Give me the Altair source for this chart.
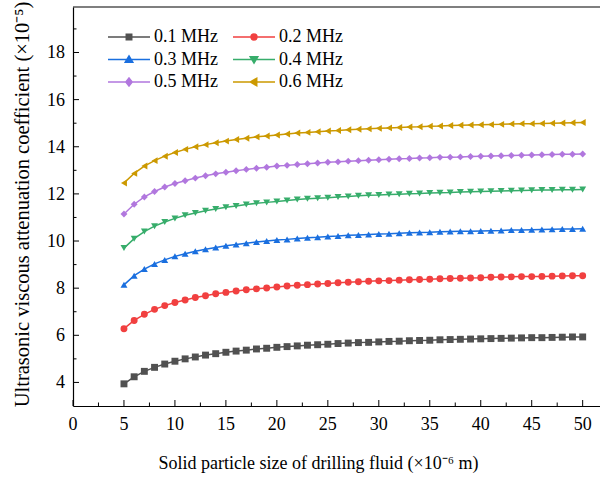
import altair as alt
import pandas as pd

# ---------------- data ----------------
x_size = list(range(5, 51))
freq_labels = ["0.1 MHz", "0.2 MHz", "0.3 MHz", "0.4 MHz", "0.5 MHz", "0.6 MHz"]
colors = ["#515151", "#F14040", "#1A6FDF", "#37AD6B", "#B177DE", "#CC9900"]
markers = ["square", "circle", "triangle-up", "triangle-down", "diamond", "triangle-left"]

att_01 = [3.94, 4.24, 4.47, 4.64, 4.78, 4.90, 5.00, 5.08, 5.16, 5.22, 5.28, 5.33, 5.37, 5.42, 5.45, 5.49,
          5.52, 5.55, 5.58, 5.60, 5.62, 5.65, 5.67, 5.69, 5.70, 5.72, 5.74, 5.75, 5.77, 5.78, 5.79, 5.81,
          5.82, 5.83, 5.84, 5.85, 5.86, 5.87, 5.88, 5.89, 5.90, 5.90, 5.91, 5.92, 5.93, 5.93]
att_02 = [6.28, 6.63, 6.89, 7.10, 7.26, 7.39, 7.50, 7.60, 7.68, 7.76, 7.82, 7.88, 7.93, 7.97, 8.01, 8.05,
          8.09, 8.12, 8.15, 8.18, 8.20, 8.23, 8.25, 8.27, 8.29, 8.31, 8.32, 8.34, 8.36, 8.37, 8.38, 8.40,
          8.41, 8.42, 8.43, 8.44, 8.46, 8.47, 8.48, 8.49, 8.49, 8.50, 8.51, 8.52, 8.53, 8.53]
att_03 = [8.14, 8.53, 8.81, 9.03, 9.20, 9.35, 9.46, 9.57, 9.65, 9.73, 9.80, 9.85, 9.91, 9.96, 10.00, 10.04,
          10.07, 10.11, 10.14, 10.16, 10.19, 10.21, 10.24, 10.26, 10.28, 10.30, 10.31, 10.33, 10.35, 10.36,
          10.37, 10.39, 10.40, 10.41, 10.42, 10.43, 10.44, 10.45, 10.47, 10.47, 10.48, 10.49, 10.50, 10.51,
          10.51, 10.52]
att_04 = [9.70, 10.10, 10.40, 10.63, 10.81, 10.96, 11.09, 11.19, 11.28, 11.36, 11.43, 11.49, 11.55, 11.60,
          11.64, 11.68, 11.72, 11.76, 11.79, 11.82, 11.84, 11.87, 11.89, 11.92, 11.94, 11.95, 11.97, 11.99,
          12.01, 12.02, 12.04, 12.05, 12.06, 12.08, 12.09, 12.10, 12.11, 12.12, 12.13, 12.14, 12.15, 12.16,
          12.17, 12.18, 12.18, 12.19]
att_05 = [11.15, 11.56, 11.87, 12.10, 12.29, 12.44, 12.56, 12.67, 12.77, 12.85, 12.92, 12.98, 13.04, 13.09,
          13.13, 13.18, 13.21, 13.25, 13.28, 13.31, 13.34, 13.36, 13.39, 13.41, 13.43, 13.45, 13.47, 13.49,
          13.50, 13.52, 13.53, 13.55, 13.56, 13.57, 13.59, 13.60, 13.61, 13.62, 13.63, 13.64, 13.65, 13.66,
          13.67, 13.68, 13.68, 13.69]
att_06 = [12.46, 12.87, 13.18, 13.41, 13.60, 13.76, 13.89, 14.00, 14.09, 14.17, 14.24, 14.31, 14.36, 14.42,
          14.46, 14.50, 14.54, 14.58, 14.61, 14.64, 14.67, 14.69, 14.72, 14.74, 14.76, 14.78, 14.80, 14.82,
          14.84, 14.85, 14.87, 14.88, 14.90, 14.91, 14.92, 14.93, 14.94, 14.95, 14.97, 14.98, 14.98, 14.99,
          15.00, 15.01, 15.02, 15.03]
series = [att_01, att_02, att_03, att_04, att_05, att_06]

x_major = [0, 5, 10, 15, 20, 25, 30, 35, 40, 45, 50]
x_tick_labels = ["0", "5", "10", "15", "20", "25", "30", "35", "40", "45", "50"]
x_minor = [2.5, 7.5, 12.5, 17.5, 22.5, 27.5, 32.5, 37.5, 42.5, 47.5]
y_major = [4, 6, 8, 10, 12, 14, 16, 18]
y_tick_labels = ["4", "6", "8", "10", "12", "14", "16", "18"]
y_minor = [5, 7, 9, 11, 13, 15, 17, 19]

x_title = "Solid particle size of drilling fluid (×10⁻⁶ m)"
y_title = "Ultrasonic viscous attenuation coefficient (×10⁻⁵)"

# legend symbols: line segment + marker (unit box -1..1)
legend_paths = [
    "M-1,0H1M-0.13,-0.13H0.13V0.13H-0.13Z",
    "M-1,0H1M-0.14,0A0.14,0.14,0,1,0,0.14,0A0.14,0.14,0,1,0,-0.14,0Z",
    "M-1,0H1M0,-0.17L0.18,0.13L-0.18,0.13Z",
    "M-1,0H1M0,0.17L0.18,-0.13L-0.18,-0.13Z",
    "M-1,0H1M0,-0.19L0.15,0L0,0.19L-0.15,0Z",
    "M-1,0H1M-0.17,0L0.13,-0.18L0.13,0.18Z",
]

rows = []
for lab, vals in zip(freq_labels, series):
    for xv, yv in zip(x_size, vals):
        rows.append({"size": xv, "att": yv, "freq": lab})
df = pd.DataFrame(rows)

W, H = 527, 399
FONT = "Liberation Serif"

xs = alt.Scale(domain=[0, 51.7], nice=False, zero=False)
ys = alt.Scale(domain=[3, 19.93], nice=False, zero=False)

x_axis = alt.Axis(values=x_major, title=x_title, labels=False, ticks=False,
                  titleFont=FONT, titleFontSize=18,
                  titleX=245, titleY=62, titleBaseline="alphabetic", titleAlign="center")
y_axis = alt.Axis(values=y_major, title=y_title, labels=False, ticks=False,
                  titleFont=FONT, titleFontSize=20.5,
                  titleX=-45, titleY=197, titleAlign="center", titleBaseline="alphabetic")
x_enc = alt.X("size:Q", scale=xs, axis=x_axis)
y_enc = alt.Y("att:Q", scale=ys, axis=y_axis)

layers = []
for lab, col, shp in zip(freq_labels, colors, markers):
    sub = alt.Chart(df).transform_filter(alt.datum.freq == lab)
    layers.append(sub.mark_line(strokeWidth=1.5, color=col).encode(x=x_enc, y=y_enc))
    layers.append(sub.mark_point(filled=True, size=48, opacity=1, shape=shp, color=col)
                  .encode(x=x_enc, y=y_enc))

leg = alt.Legend(orient="none", legendX=34, legendY=21, columns=2, direction="horizontal", title=None,
                 symbolSize=1764, symbolStrokeWidth=1.5, clipHeight=18,
                 symbolFillColor="black", symbolStrokeColor="black", symbolOpacity=1,
                 rowPadding=4.5, columnPadding=14, labelOffset=3, padding=0,
                 labelFont=FONT, labelFontSize=18, labelColor="black")

legend_layer = alt.Chart(df).transform_filter("false").mark_point(filled=True, strokeWidth=1.5, opacity=1).encode(
    x=x_enc, y=y_enc,
    fill=alt.Fill("freq:N", scale=alt.Scale(domain=freq_labels, range=colors), legend=leg),
    stroke=alt.Stroke("freq:N", scale=alt.Scale(domain=freq_labels, range=colors), legend=leg),
    shape=alt.Shape("freq:N", scale=alt.Scale(domain=freq_labels, range=legend_paths), legend=leg),
)

xtick_df = pd.DataFrame({"size": x_major, "lab": x_tick_labels})
ytick_df = pd.DataFrame({"att": y_major, "lab": y_tick_labels})

xt_major = alt.Chart(xtick_df).mark_rule(color="black", strokeWidth=1).encode(
    x=x_enc, y=alt.value(H), y2=alt.value(H - 6))
xt_minor = alt.Chart(pd.DataFrame({"size": x_minor})).mark_rule(color="black", strokeWidth=1).encode(
    x=x_enc, y=alt.value(H), y2=alt.value(H - 3.5))
yt_major = alt.Chart(ytick_df).mark_rule(color="black", strokeWidth=1).encode(
    y=y_enc, x=alt.value(0), x2=alt.value(6))
yt_minor = alt.Chart(pd.DataFrame({"att": y_minor})).mark_rule(color="black", strokeWidth=1).encode(
    y=y_enc, x=alt.value(0), x2=alt.value(3.5))
frame_top = alt.Chart(pd.DataFrame({"k": [0]})).mark_rule(color="black", strokeWidth=1.2).encode(
    x=alt.value(0), x2=alt.value(W), y=alt.value(0))

x_labels = alt.Chart(xtick_df).mark_text(font=FONT, fontSize=18, color="black", align="center",
                                         baseline="alphabetic").encode(
    x=x_enc, y=alt.value(H + 23.5), text="lab:N")
y_labels = alt.Chart(ytick_df).mark_text(font=FONT, fontSize=18, color="black", align="right",
                                         baseline="middle", dy=1).encode(
    y=y_enc, x=alt.value(-8), text="lab:N")

chart = alt.layer(
    *layers, legend_layer, xt_major, xt_minor, yt_major, yt_minor, frame_top, x_labels, y_labels
).properties(
    width=W, height=H,
    padding={"left": 73, "top": 7, "right": 0, "bottom": 71},
    autosize=alt.AutoSizeParams(type="none"),
    background="white",
).configure(font=FONT).configure_view(stroke=None).configure_axis(
    labelFont=FONT, labelFontSize=18, labelColor="black", labels=False,
    titleFont=FONT, titleFontSize=18, titleFontWeight="normal", titleColor="black",
    domainColor="black", domainWidth=1.2, ticks=False, tickSize=0, grid=False,
)

chart.save("out.html", embed_options={"renderer": "svg", "actions": False})
